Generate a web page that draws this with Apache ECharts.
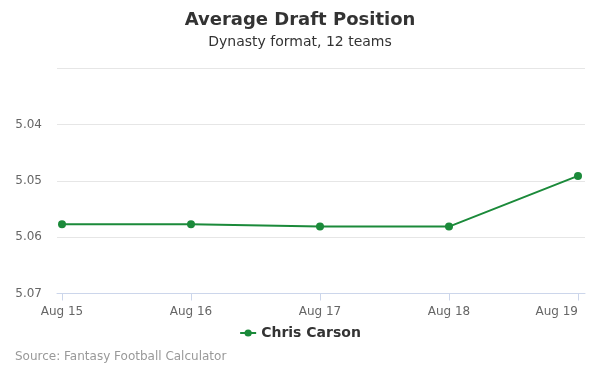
<!DOCTYPE html>
<html><head><meta charset="utf-8">
<script src="https://cdn.jsdelivr.net/npm/echarts@6/dist/echarts.min.js"></script>
<style>html,body{margin:0;padding:0;background:#fff}#c{width:600px;height:375px}</style>
</head><body><div id="c"></div>
<script>
const categories = ['Aug 15', 'Aug 16', 'Aug 17', 'Aug 18', 'Aug 19'];
const seriesName = 'Chris Carson';
const values = [5.0577, 5.0577, 5.0581, 5.0581, 5.0491];
const yMin = 5.03, yMax = 5.07, yStep = 0.01;

const font = 'DejaVu Sans';
const chart = echarts.init(document.getElementById('c'), null, {renderer: 'canvas'});
chart.setOption({
  animation: false,
  textStyle: {fontFamily: font},
  title: [
    {text: 'Average Draft Position', left: 'center', top: 6,
     textStyle: {fontSize: 18, fontWeight: 'bold', color: '#333', fontFamily: font}},
    {text: 'Dynasty format, 12 teams', left: 'center', top: 30,
     textStyle: {fontSize: 14, fontWeight: 'normal', color: '#333', fontFamily: font}},
    {text: 'Source: Fantasy Football Calculator', left: 10, top: 346,
     textStyle: {fontSize: 12, fontWeight: 'normal', color: '#999', fontFamily: font}}
  ],
  legend: {
    data: [seriesName], top: 321, left: 'center', itemWidth: 16, itemHeight: 9,
    textStyle: {fontSize: 14, fontWeight: 'bold', color: '#333', fontFamily: font}
  },
  grid: [
    {left: 57, right: 15, top: 68.5, bottom: 81.5},
    {left: 62, right: 22, top: 68.5, bottom: 81.5}
  ],
  xAxis: [
    {gridIndex: 0, type: 'category', data: categories, boundaryGap: false,
     axisLine: {show: true, lineStyle: {color: '#ccd6eb', width: 1}},
     axisTick: {show: false}, axisLabel: {show: false}, splitLine: {show: false}},
    {gridIndex: 1, type: 'category', data: categories, boundaryGap: false,
     axisLine: {show: false},
     axisTick: {show: true, length: 7, lineStyle: {color: '#ccd6eb'}},
     axisLabel: {show: true, color: '#666', fontSize: 12, margin: 12, fontFamily: font,
       showMaxLabel: true, showMinLabel: true, alignMaxLabel: 'right'},
     splitLine: {show: false}}
  ],
  yAxis: [
    {gridIndex: 0, type: 'value', inverse: true, min: yMin, max: yMax, interval: yStep,
     axisLine: {show: false}, axisTick: {show: false},
     axisLabel: {color: '#666', fontSize: 12, margin: 15, fontFamily: font,
       formatter: v => (Math.abs(v - yMin) < 1e-9 ? '' : v.toFixed(2))},
     splitLine: {show: true, lineStyle: {color: '#e6e6e6', width: 1}}},
    {gridIndex: 1, type: 'value', inverse: true, min: yMin, max: yMax, interval: yStep,
     show: false, splitLine: {show: false}}
  ],
  series: [{
    name: seriesName, type: 'line', xAxisIndex: 1, yAxisIndex: 1,
    data: values, symbol: 'circle', symbolSize: 8,
    lineStyle: {color: '#1b8a3a', width: 2},
    itemStyle: {color: '#1b8a3a'}
  }]
});
</script></body></html>
